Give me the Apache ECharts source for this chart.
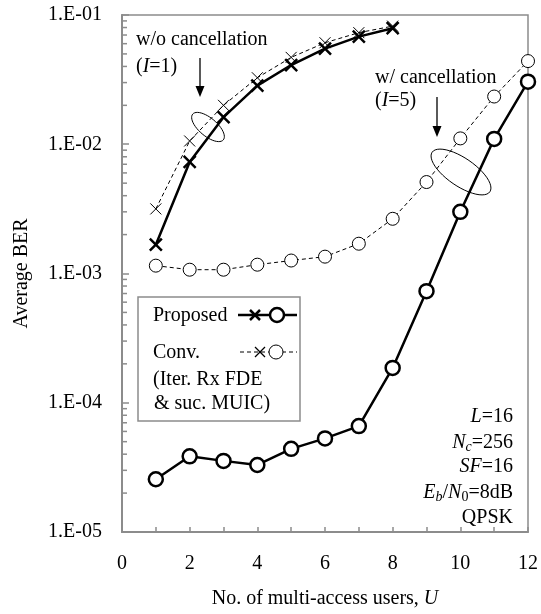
<!DOCTYPE html>
<html>
<head>
<meta charset="utf-8">
<script src="https://cdn.jsdelivr.net/npm/echarts@6/dist/echarts.min.js"></script>
<style>
  html, body { margin: 0; padding: 0; background: #fff; }
  #chart { width: 541px; height: 614px; }
</style>
</head>
<body>
<div id="chart"></div>
<script>
// number of multi-access users U
const users = [1, 2, 3, 4, 5, 6, 7, 8, 9, 10, 11, 12]
// w/o cancellation (I=1), U = 1..8
const propWoCancel = [1.67e-3, 7.3e-3, 1.62e-2, 2.84e-2, 4.1e-2, 5.5e-2, 6.8e-2, 7.9e-2]
const convWoCancel = [3.16e-3, 1.06e-2, 2.0e-2, 3.27e-2, 4.7e-2, 6.1e-2, 7.3e-2, 8.2e-2]
// w/ cancellation (I=5), U = 1..12
const propWCancel = [2.56e-5, 3.85e-5, 3.55e-5, 3.3e-5, 4.4e-5, 5.3e-5, 6.6e-5, 1.86e-4, 7.3e-4, 3.0e-3, 1.1e-2, 3.05e-2]
const convWCancel = [1.15e-3, 1.07e-3, 1.07e-3, 1.17e-3, 1.26e-3, 1.35e-3, 1.7e-3, 2.65e-3, 5.1e-3, 1.11e-2, 2.34e-2, 4.4e-2]
// y axis decades with minor ticks (2..9 x decade)
const decades = [1e-5, 1e-4, 1e-3, 1e-2]
const minorMult = [2, 3, 4, 5, 6, 7, 8, 9]

const FONT = 'Liberation Serif'
const FS = 20
const AXIS_GRAY = '#8c8c8c'
const CROSS = 'path://M0,0L10,10M0,10L10,0'

const pair = (xs, ys) => ys.map((v, i) => [xs[i], v])
const minorTicks = []
decades.forEach(d => minorMult.forEach(m => minorTicks.push([0, d * m])))

function lineSeries (name, data, symbol, size, lw, dashed, z) {
  return {
    name: name,
    type: 'line',
    data: data,
    symbol: symbol,
    symbolSize: size,
    z: z,
    lineStyle: { color: '#000', width: lw, type: dashed ? [4, 3] : 'solid' },
    itemStyle: {
      color: symbol === 'circle' ? '#fff' : 'none',
      borderColor: '#000',
      borderWidth: lw
    }
  }
}

function arrow (x, y1, y2) {
  return [
    { type: 'line', shape: { x1: x, y1: y1, x2: x, y2: y2 - 8 }, style: { stroke: '#000', lineWidth: 1.3 } },
    { type: 'polygon', shape: { points: [[x - 4.5, y2 - 11], [x + 4.5, y2 - 11], [x, y2]] }, style: { fill: '#000' } }
  ]
}

// little X mark drawn from two lines
function cross (cx, cy, h, lw) {
  return [
    { type: 'line', z: 52, shape: { x1: cx - h, y1: cy - h, x2: cx + h, y2: cy + h }, style: { stroke: '#000', lineWidth: lw } },
    { type: 'line', z: 52, shape: { x1: cx - h, y1: cy + h, x2: cx + h, y2: cy - h }, style: { stroke: '#000', lineWidth: lw } }
  ]
}

// tilted ellipse outline
function ellipse (cx, cy, rx, ry, ang) {
  const pts = []
  for (let k = 0; k < 48; k++) {
    const t = k / 48 * Math.PI * 2
    const ex = rx * Math.cos(t)
    const ey = ry * Math.sin(t)
    pts.push([cx + ex * Math.cos(ang) - ey * Math.sin(ang), cy + ex * Math.sin(ang) + ey * Math.cos(ang)])
  }
  return { type: 'polygon', shape: { points: pts }, style: { fill: 'none', stroke: '#000', lineWidth: 1 } }
}

const txt = (x, y, text, align, extra) => Object.assign({
  type: 'text',
  x: x,
  y: y,
  style: {
    text: text,
    font: FS + 'px "' + FONT + '"',
    fill: '#000',
    align: align || 'left',
    verticalAlign: 'middle',
    rich: {
      i: { fontStyle: 'italic', fontFamily: FONT, fontSize: FS },
      sub: { fontStyle: 'italic', fontFamily: FONT, fontSize: 14, padding: [9, 0, 0, 0] },
      subn: { fontFamily: FONT, fontSize: 14, padding: [9, 0, 0, 0] }
    }
  }
}, extra || {})

const graphics = [
  // legend box
  { type: 'rect', shape: { x: 138, y: 297, width: 162, height: 124 }, style: { fill: '#fff', stroke: AXIS_GRAY, lineWidth: 1.5 }, z: 50 },
  txt(153, 316, 'Proposed', 'left', { z: 51 }),
  { type: 'line', shape: { x1: 238, y1: 315, x2: 297, y2: 315 }, style: { stroke: '#000', lineWidth: 2.5 }, z: 51 },
  ...cross(255, 315, 5, 2.5),
  { type: 'circle', shape: { cx: 277, cy: 315, r: 7 }, style: { fill: '#fff', stroke: '#000', lineWidth: 2.5 }, z: 52 },
  txt(153, 353, 'Conv.', 'left', { z: 51 }),
  { type: 'line', shape: { x1: 240, y1: 352, x2: 297, y2: 352 }, style: { stroke: '#000', lineWidth: 1, lineDash: [4, 3] }, z: 51 },
  ...cross(260, 352, 5, 1.3),
  { type: 'circle', shape: { cx: 276, cy: 352, r: 7 }, style: { fill: '#fff', stroke: '#000', lineWidth: 1 }, z: 52 },
  txt(153, 380, '(Iter. Rx FDE', 'left', { z: 51 }),
  txt(154, 404, '& suc. MUIC)', 'left', { z: 51 }),
  // annotation: w/o cancellation
  txt(136, 40, 'w/o cancellation'),
  txt(136, 67, '({i|I}=1)'),
  ...arrow(200, 58, 97),
  ellipse(208, 127, 20, 9, 0.7),
  // annotation: w/ cancellation
  txt(375, 78, 'w/ cancellation'),
  txt(375, 101, '({i|I}=5)'),
  ...arrow(437, 97, 137),
  ellipse(461, 172, 35, 14, 0.6),
  // parameters
  txt(513, 417, '{i|L}=16', 'right'),
  txt(513, 443, '{i|N}{sub|c}=256', 'right'),
  txt(513, 467, '{i|SF}=16', 'right'),
  txt(513, 493, '{i|E}{sub|b}/{i|N}{subn|0}=8dB', 'right'),
  txt(513, 518, 'QPSK', 'right')
]

const option = {
  animation: false,
  backgroundColor: '#fff',
  textStyle: { fontFamily: FONT },
  grid: {
    left: 122,
    right: 10,
    top: 15,
    bottom: 79,
    show: true,
    borderColor: AXIS_GRAY,
    borderWidth: 1.5,
    containLabel: false
  },
  xAxis: {
    type: 'value',
    min: 0,
    max: 12,
    interval: 1,
    name: 'No. of multi-access users, {i|U}',
    nameLocation: 'middle',
    nameGap: 57,
    nameTextStyle: {
      fontFamily: FONT,
      fontSize: FS,
      color: '#000',
      rich: { i: { fontStyle: 'italic', fontFamily: FONT, fontSize: FS, color: '#000' } }
    },
    axisLine: { lineStyle: { color: AXIS_GRAY, width: 2 } },
    axisTick: { inside: true, length: 5, lineStyle: { color: AXIS_GRAY, width: 1.5 } },
    axisLabel: {
      margin: 22,
      fontFamily: FONT,
      fontSize: FS,
      color: '#000',
      formatter: v => (v % 2 === 0 ? String(v) : '')
    },
    splitLine: { show: false }
  },
  yAxis: {
    type: 'log',
    logBase: 10,
    min: 1e-5,
    max: 1e-1,
    name: 'Average BER',
    nameLocation: 'middle',
    nameGap: 90,
    nameTextStyle: { fontFamily: FONT, fontSize: FS, color: '#000' },
    axisLine: { show: true, lineStyle: { color: AXIS_GRAY, width: 2 } },
    axisTick: { inside: true, length: 7, lineStyle: { color: AXIS_GRAY, width: 1.5 } },
    axisLabel: {
      margin: 20,
      fontFamily: FONT,
      fontSize: FS,
      color: '#000',
      formatter: v => {
        const e = Math.round(Math.log10(v))
        return '1.E-' + String(Math.abs(e)).padStart(2, '0')
      }
    },
    splitLine: { show: false }
  },
  series: [
    {
      name: 'minor ticks',
      type: 'custom',
      data: minorTicks,
      silent: true,
      clip: false,
      z: 1,
      renderItem: (params, api) => {
        const p = api.coord([0, api.value(1)])
        return {
          type: 'line',
          shape: { x1: p[0], y1: p[1], x2: p[0] + 5, y2: p[1] },
          style: { stroke: AXIS_GRAY, lineWidth: 1.5 }
        }
      }
    },
    lineSeries('Conv. w/o', pair(users, convWoCancel), CROSS, 11, 1, true, 3),
    lineSeries('Conv. w/', pair(users, convWCancel), 'circle', 13, 1, true, 3),
    lineSeries('Proposed w/o', pair(users, propWoCancel), CROSS, 12, 2.5, false, 4),
    lineSeries('Proposed w/', pair(users, propWCancel), 'circle', 14, 2.5, false, 4)
  ],
  graphic: graphics
}

const chart = echarts.init(document.getElementById('chart'))
chart.setOption(option)
</script>
</body>
</html>
